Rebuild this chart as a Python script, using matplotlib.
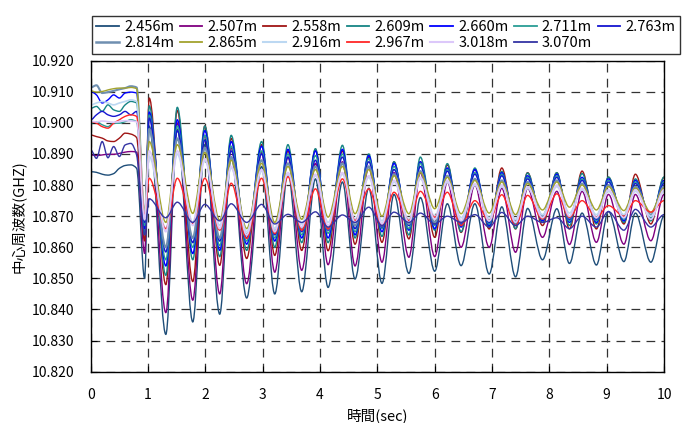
import numpy as np
import matplotlib
matplotlib.use("Agg")
import matplotlib.pyplot as plt
from matplotlib.path import Path
from matplotlib.patches import PathPatch
from matplotlib.lines import Line2D

plt.rcParams['font.family'] = ['Noto Sans CJK JP', 'DejaVu Sans']

# sample times (sec): flat start, then troughs / peaks of the oscillation
t_init = [0.00, 0.10, 0.20, 0.30, 0.40, 0.50, 0.60, 0.70, 0.80]
t_trough = [0.94, 1.31, 1.78, 2.25, 2.72, 3.21, 3.68, 4.14, 4.61, 5.08,
            5.55, 6.00, 6.46, 6.95, 7.41, 7.88, 8.35, 8.82, 9.30, 9.77]
t_peak = [1.02, 1.51, 1.99, 2.45, 2.98, 3.44, 3.92, 4.39, 4.85, 5.29,
          5.75, 6.22, 6.70, 7.17, 7.62, 8.13, 8.57, 9.03, 9.50, 10.00]

labels = ["2.456m", "2.507m", "2.558m", "2.609m", "2.660m", "2.711m", "2.763m",
          "2.814m", "2.865m", "2.916m", "2.967m", "3.018m", "3.070m"]

# center frequency (GHz)
init_2456 = [10.8843, 10.8841, 10.8835, 10.8832, 10.8837, 10.8854, 10.8863, 10.8865, 10.8854]
trough_2456 = [10.8500, 10.8320, 10.8360, 10.8385, 10.8437, 10.8450, 10.8457, 10.8471, 10.8498, 10.8484,
               10.8516, 10.8523, 10.8541, 10.8514, 10.8505, 10.8560, 10.8548, 10.8543, 10.8554, 10.8552]
peak_2456 = [10.8990, 10.8980, 10.8930, 10.8890, 10.8860, 10.8840, 10.8820, 10.8810, 10.8790, 10.8770,
             10.8760, 10.8740, 10.8740, 10.8730, 10.8725, 10.8724, 10.8710, 10.8715, 10.8710, 10.8700]

init_2507 = [10.8897, 10.8895, 10.8897, 10.8899, 10.8899, 10.8902, 10.8906, 10.8908, 10.8906]
trough_2507 = [10.8580, 10.8390, 10.8430, 10.8450, 10.8483, 10.8520, 10.8526, 10.8544, 10.8540, 10.8552,
               10.8568, 10.8570, 10.8600, 10.8600, 10.8584, 10.8632, 10.8609, 10.8616, 10.8610, 10.8621]
peak_2507 = [10.9030, 10.9000, 10.8960, 10.8920, 10.8905, 10.8890, 10.8870, 10.8875, 10.8860, 10.8840,
             10.8840, 10.8810, 10.8800, 10.8790, 10.8790, 10.8780, 10.8780, 10.8770, 10.8770, 10.8770]

init_2558 = [10.8961, 10.8956, 10.8951, 10.8942, 10.8940, 10.8951, 10.8967, 10.8964, 10.8953]
trough_2558 = [10.8620, 10.8480, 10.8490, 10.8542, 10.8564, 10.8574, 10.8590, 10.8589, 10.8610, 10.8616,
               10.8627, 10.8632, 10.8648, 10.8659, 10.8659, 10.8670, 10.8659, 10.8659, 10.8675, 10.8675]
peak_2558 = [10.9080, 10.9040, 10.8990, 10.8950, 10.8930, 10.8910, 10.8915, 10.8910, 10.8890, 10.8875,
             10.8875, 10.8865, 10.8850, 10.8855, 10.8840, 10.8840, 10.8845, 10.8825, 10.8835, 10.8825]

init_2609 = [10.9047, 10.9053, 10.9037, 10.9058, 10.9042, 10.9037, 10.9058, 10.9069, 10.9064]
trough_2609 = [10.8640, 10.8510, 10.8560, 10.8570, 10.8590, 10.8600, 10.8615, 10.8615, 10.8630, 10.8635,
               10.8640, 10.8655, 10.8650, 10.8665, 10.8660, 10.8680, 10.8670, 10.8675, 10.8680, 10.8685]
peak_2609 = [10.9055, 10.9050, 10.8990, 10.8960, 10.8940, 10.8930, 10.8917, 10.8928, 10.8900, 10.8875,
             10.8890, 10.8869, 10.8855, 10.8844, 10.8839, 10.8840, 10.8837, 10.8826, 10.8820, 10.8826]

init_2660 = [10.9101, 10.9090, 10.9064, 10.9074, 10.9090, 10.9080, 10.9096, 10.9099, 10.9096]
trough_2660 = [10.8660, 10.8540, 10.8580, 10.8590, 10.8610, 10.8620, 10.8630, 10.8630, 10.8640, 10.8650,
               10.8655, 10.8660, 10.8665, 10.8670, 10.8670, 10.8685, 10.8680, 10.8680, 10.8685, 10.8690]
peak_2660 = [10.9035, 10.9010, 10.8975, 10.8940, 10.8925, 10.8915, 10.8910, 10.8915, 10.8895, 10.8870,
             10.8875, 10.8855, 10.8850, 10.8840, 10.8830, 10.8835, 10.8825, 10.8820, 10.8815, 10.8815]

init_2711 = [10.8999, 10.9004, 10.8994, 10.8988, 10.8999, 10.8999, 10.9004, 10.9010, 10.9004]
trough_2711 = [10.8670, 10.8560, 10.8600, 10.8605, 10.8620, 10.8630, 10.8640, 10.8645, 10.8650, 10.8660,
               10.8660, 10.8670, 10.8670, 10.8675, 10.8675, 10.8690, 10.8685, 10.8685, 10.8690, 10.8695]
peak_2711 = [10.9025, 10.8990, 10.8960, 10.8925, 10.8910, 10.8900, 10.8895, 10.8900, 10.8885, 10.8860,
             10.8870, 10.8850, 10.8840, 10.8835, 10.8825, 10.8830, 10.8820, 10.8815, 10.8810, 10.8810]

init_2763 = [10.9010, 10.9026, 10.9037, 10.9026, 10.9021, 10.9026, 10.9037, 10.9026, 10.9037]
trough_2763 = [10.8680, 10.8585, 10.8615, 10.8620, 10.8630, 10.8640, 10.8650, 10.8655, 10.8660, 10.8665,
               10.8670, 10.8675, 10.8675, 10.8680, 10.8680, 10.8695, 10.8690, 10.8690, 10.8695, 10.8700]
peak_2763 = [10.9015, 10.8975, 10.8945, 10.8910, 10.8900, 10.8890, 10.8880, 10.8890, 10.8875, 10.8850,
             10.8860, 10.8845, 10.8835, 10.8830, 10.8820, 10.8825, 10.8815, 10.8810, 10.8805, 10.8805]

init_2814 = [10.9114, 10.9121, 10.9096, 10.9099, 10.9103, 10.9108, 10.9112, 10.9118, 10.9114]
trough_2814 = [10.8690, 10.8600, 10.8630, 10.8630, 10.8640, 10.8650, 10.8660, 10.8660, 10.8670, 10.8670,
               10.8675, 10.8680, 10.8680, 10.8685, 10.8685, 10.8700, 10.8695, 10.8695, 10.8700, 10.8705]
peak_2814 = [10.8980, 10.8950, 10.8920, 10.8890, 10.8880, 10.8870, 10.8860, 10.8870, 10.8860, 10.8835,
             10.8845, 10.8830, 10.8820, 10.8815, 10.8810, 10.8815, 10.8805, 10.8800, 10.8795, 10.8795]

init_2865 = [10.9103, 10.9099, 10.9101, 10.9106, 10.9110, 10.9112, 10.9112, 10.9114, 10.9110]
trough_2865 = [10.8710, 10.8680, 10.8709, 10.8687, 10.8660, 10.8680, 10.8690, 10.8697, 10.8708, 10.8700,
               10.8708, 10.8724, 10.8708, 10.8710, 10.8705, 10.8720, 10.8729, 10.8720, 10.8718, 10.8713]
peak_2865 = [10.8940, 10.8930, 10.8905, 10.8880, 10.8870, 10.8860, 10.8850, 10.8860, 10.8850, 10.8830,
             10.8840, 10.8825, 10.8815, 10.8810, 10.8805, 10.8810, 10.8800, 10.8795, 10.8790, 10.8790]

init_2916 = [10.9058, 10.9064, 10.9069, 10.9064, 10.9058, 10.9064, 10.9069, 10.9074, 10.9069]
trough_2916 = [10.8700, 10.8660, 10.8680, 10.8670, 10.8650, 10.8660, 10.8675, 10.8680, 10.8690, 10.8685,
               10.8690, 10.8700, 10.8695, 10.8695, 10.8690, 10.8705, 10.8710, 10.8705, 10.8705, 10.8700]
peak_2916 = [10.8892, 10.8900, 10.8880, 10.8855, 10.8845, 10.8835, 10.8830, 10.8835, 10.8825, 10.8810,
             10.8820, 10.8810, 10.8800, 10.8795, 10.8790, 10.8795, 10.8785, 10.8780, 10.8780, 10.8780]

init_2967 = [10.9004, 10.8999, 10.8988, 10.8983, 10.8999, 10.9010, 10.9021, 10.9026, 10.9021]
trough_2967 = [10.8700, 10.8660, 10.8676, 10.8655, 10.8628, 10.8644, 10.8655, 10.8659, 10.8686, 10.8670,
               10.8686, 10.8697, 10.8670, 10.8686, 10.8670, 10.8691, 10.8697, 10.8697, 10.8700, 10.8713]
peak_2967 = [10.8822, 10.8822, 10.8822, 10.8806, 10.8822, 10.8827, 10.8788, 10.8820, 10.8788, 10.8777,
             10.8780, 10.8777, 10.8750, 10.8769, 10.8767, 10.8772, 10.8750, 10.8734, 10.8750, 10.8750]

init_3018 = [10.9005, 10.9003, 10.9006, 10.9004, 10.9002, 10.9005, 10.9007, 10.9006, 10.9004]
trough_3018 = [10.8690, 10.8650, 10.8670, 10.8660, 10.8640, 10.8650, 10.8665, 10.8670, 10.8680, 10.8675,
               10.8680, 10.8690, 10.8685, 10.8685, 10.8680, 10.8695, 10.8700, 10.8695, 10.8695, 10.8690]
peak_3018 = [10.8910, 10.8910, 10.8885, 10.8860, 10.8850, 10.8840, 10.8835, 10.8840, 10.8830, 10.8815,
             10.8825, 10.8815, 10.8805, 10.8800, 10.8795, 10.8800, 10.8790, 10.8785, 10.8785, 10.8785]

init_3070 = [10.8913, 10.8886, 10.8940, 10.8888, 10.8924, 10.8892, 10.8929, 10.8934, 10.8897]
trough_3070 = [10.8640, 10.8695, 10.8680, 10.8685, 10.8680, 10.8675, 10.8680, 10.8665, 10.8680, 10.8670,
               10.8680, 10.8675, 10.8680, 10.8665, 10.8670, 10.8680, 10.8660, 10.8665, 10.8655, 10.8665]
peak_3070 = [10.8756, 10.8745, 10.8738, 10.8740, 10.8738, 10.8706, 10.8714, 10.8704, 10.8729, 10.8713,
             10.8710, 10.8700, 10.8705, 10.8712, 10.8700, 10.8695, 10.8700, 10.8715, 10.8722, 10.8705]

inits = [init_2456, init_2507, init_2558, init_2609, init_2660, init_2711, init_2763,
         init_2814, init_2865, init_2916, init_2967, init_3018, init_3070]
troughs = [trough_2456, trough_2507, trough_2558, trough_2609, trough_2660, trough_2711, trough_2763,
           trough_2814, trough_2865, trough_2916, trough_2967, trough_3018, trough_3070]
peaks = [peak_2456, peak_2507, peak_2558, peak_2609, peak_2660, peak_2711, peak_2763,
         peak_2814, peak_2865, peak_2916, peak_2967, peak_3018, peak_3070]

colors = ["#1F4E79", "#800080", "#A01515", "#168585", "#0000FF", "#2A9D95", "#1515D0",
          "#6F8FB0", "#A3A32E", "#BCD8F2", "#FF2626", "#DCC8FA", "#3434A4"]
widths = [1.0, 1.0, 1.0, 1.0, 1.0, 1.0, 1.0, 1.5, 1.0, 1.2, 1.0, 1.2, 1.0]


def merge(init, tr, pk):
    t = list(t_init)
    v = list(init)
    for a, b, c, d in zip(t_trough, tr, t_peak, pk):
        t += [a, c]
        v += [b, d]
    return np.array(t), np.array(v)


def smooth_path(x, y):
    # smooth curve through every point (shape-preserving tangents, no overshoot)
    n = len(x)
    d = np.diff(y) / np.diff(x)
    m = np.zeros(n)
    for i in range(1, n - 1):
        if d[i - 1] * d[i] > 0:
            m[i] = 2.0 / (1.0 / d[i - 1] + 1.0 / d[i])
    verts = [(x[0], y[0])]
    codes = [Path.MOVETO]
    for i in range(n - 1):
        h = (x[i + 1] - x[i]) / 3
        verts += [(x[i] + h, y[i] + m[i] * h),
                  (x[i + 1] - h, y[i + 1] - m[i + 1] * h),
                  (x[i + 1], y[i + 1])]
        codes += [Path.CURVE4] * 3
    return Path(verts, codes)


fig = plt.figure(figsize=(6.91, 4.23), dpi=100)
ax = fig.add_axes([0.1313, 0.1213, 0.8297, 0.7352])

handles = []
for lab, ini, tr, pk, col, lw in zip(labels, inits, troughs, peaks, colors, widths):
    t, v = merge(ini, tr, pk)
    ax.add_patch(PathPatch(smooth_path(t, v), facecolor="none", edgecolor=col, lw=lw))
    handles.append(Line2D([], [], color=col, lw=lw + 0.3, label=lab))

ax.set_xlim(0, 10)
ax.set_ylim(10.82, 10.92)
ax.set_xticks(np.arange(0, 11, 1))
ax.set_yticks(np.arange(10.82, 10.9201, 0.01))
ax.yaxis.set_major_formatter(matplotlib.ticker.FormatStrFormatter('%.3f'))
ax.grid(True, color="#333333", linestyle=(0, (7, 5)), lw=0.9)
ax.set_axisbelow(True)
ax.tick_params(axis="x", direction="in", length=4, pad=11.5, labelsize=10)
ax.tick_params(axis="y", direction="in", length=4, pad=12, labelsize=10)
for s in ax.spines.values():
    s.set_color("black")
    s.set_linewidth(1.0)

ax.set_xlabel("時間(sec)", fontsize=10.5, va="center")
ax.set_ylabel("中心周波数(GHZ)", fontsize=10.5, va="center")
ax.xaxis.set_label_coords(0.5, -0.143)
ax.yaxis.set_label_coords(-0.127, 0.5)

# legend is filled row by row in the original: reorder for column-wise filling
order = [0, 7, 1, 8, 2, 9, 3, 10, 4, 11, 5, 12, 6]
leg = fig.legend(handles=[handles[i] for i in order], loc="lower left", ncol=7, mode="expand",
                 bbox_to_anchor=(0.133, 0.872, 0.851, 0.097),
                 bbox_transform=fig.transFigure, fontsize=10.5,
                 frameon=True, fancybox=False, borderpad=0.3,
                 handlelength=1.55, handletextpad=0.35, labelspacing=0.12,
                 columnspacing=0.4, borderaxespad=0.0)
leg.get_frame().set_edgecolor("black")
leg.get_frame().set_linewidth(1.0)

fig.savefig("out.png", dpi=100, facecolor="white")
